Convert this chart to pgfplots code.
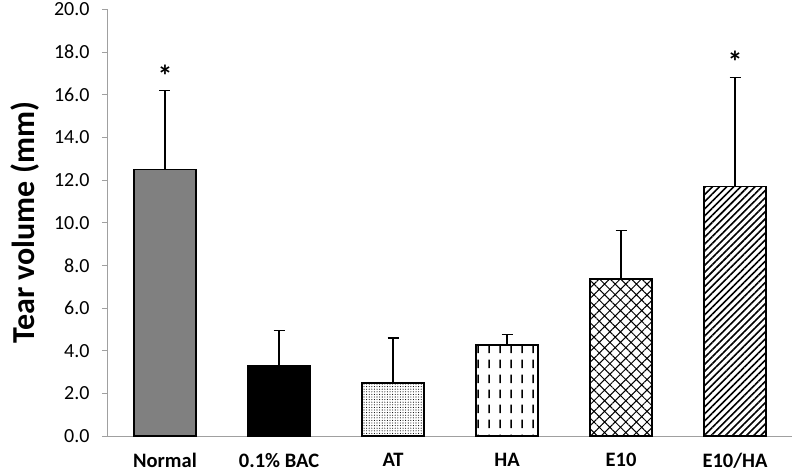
\documentclass[border=0pt]{standalone}
\usepackage{fontspec}
\setmainfont{Carlito}
\usepackage{pgfplots}
\pgfplotsset{compat=1.18}
\usetikzlibrary{patterns,patterns.meta}
\definecolor{axgray}{HTML}{A0A0A0}
\definecolor{bargray}{HTML}{808080}
\tikzdeclarepattern{
  name=VDash,
  type=uncolored,
  bounding box={(0pt,0pt) and (11pt,15pt)},
  tile size={(11pt,15pt)},
  code={\draw[line width=1.4pt] (5.5pt,3pt)--(5.5pt,12pt);}
}
\begin{document}
\begin{tikzpicture}
\path[use as bounding box] (-108pt,-39pt) rectangle (687pt,436pt);
\begin{axis}[
  at={(0pt,0pt)}, anchor=south west,
  scale only axis,
  width=684pt, height=426.5pt,
  xmin=-0.5, xmax=5.5,
  ymin=0, ymax=20,
  axis x line=bottom, axis y line=left,
  axis line style={axgray, line width=1pt, -},
  xtick={0,...,5},
  xticklabels={Normal,0.1\% BAC,AT,HA,E10,E10/HA},
  x tick label style={font=\fontsize{20.5}{22}\selectfont\bfseries, yshift=-8pt},
  major x tick style={draw=none},
  extra x ticks={-0.5,0.5,1.5,2.5,3.5,4.5,5.5},
  extra x tick labels={},
  extra x tick style={tick style={axgray, line width=1pt}, major tick length=6pt, tick align=outside},
  ytick={0,2,...,20},
  y tick label style={font=\fontsize{20}{22}\selectfont, xshift=-9pt},
  yticklabel style={/pgf/number format/.cd, fixed, fixed zerofill, precision=1, assume math mode=true},
  ytick style={axgray, line width=1pt},
  major tick length=6pt,
  tick align=outside,
  ylabel={\textbf{Tear volume (mm)}},
  ylabel style={font=\fontsize{32}{34}\selectfont, yshift=8pt},
  ybar, bar width=62pt, bar shift=0pt,
  clip=false,
  error bars/y dir=plus, error bars/y explicit,
  error bars/error bar style={black, line width=1.3pt},
  error bars/error mark options={black, rotate=90, mark size=5.5pt, line width=1.3pt},
]
\addplot[draw=black, line width=1.8pt, fill=bargray] coordinates {(0,12.5) +- (0,3.7)};
\addplot[draw=black, line width=1.8pt, fill=black] coordinates {(1,3.3) +- (0,1.65)};
\addplot[draw=black, line width=1.8pt, pattern={Dots[distance=2.6pt,radius=0.55pt]}] coordinates {(2,2.5) +- (0,2.1)};
\addplot[draw=black, line width=1.8pt, pattern=VDash] coordinates {(3,4.25) +- (0,0.5)};
\addplot[draw=black, line width=1.8pt, pattern={Hatch[angle=45,distance=7.5pt,line width=1pt]}] coordinates {(4,7.35) +- (0,2.3)};
\addplot[draw=black, line width=1.8pt, pattern={Lines[angle=45,distance=5pt,line width=1.6pt]}] coordinates {(5,11.7) +- (0,5.1)};
\node[font=\fontsize{30}{30}\selectfont\bfseries, anchor=south, inner sep=1pt] at (axis cs:0,16.35) {*};
\node[font=\fontsize{30}{30}\selectfont\bfseries, anchor=south, inner sep=1pt] at (axis cs:5,17.0) {*};
\end{axis}
\end{tikzpicture}
\end{document}
